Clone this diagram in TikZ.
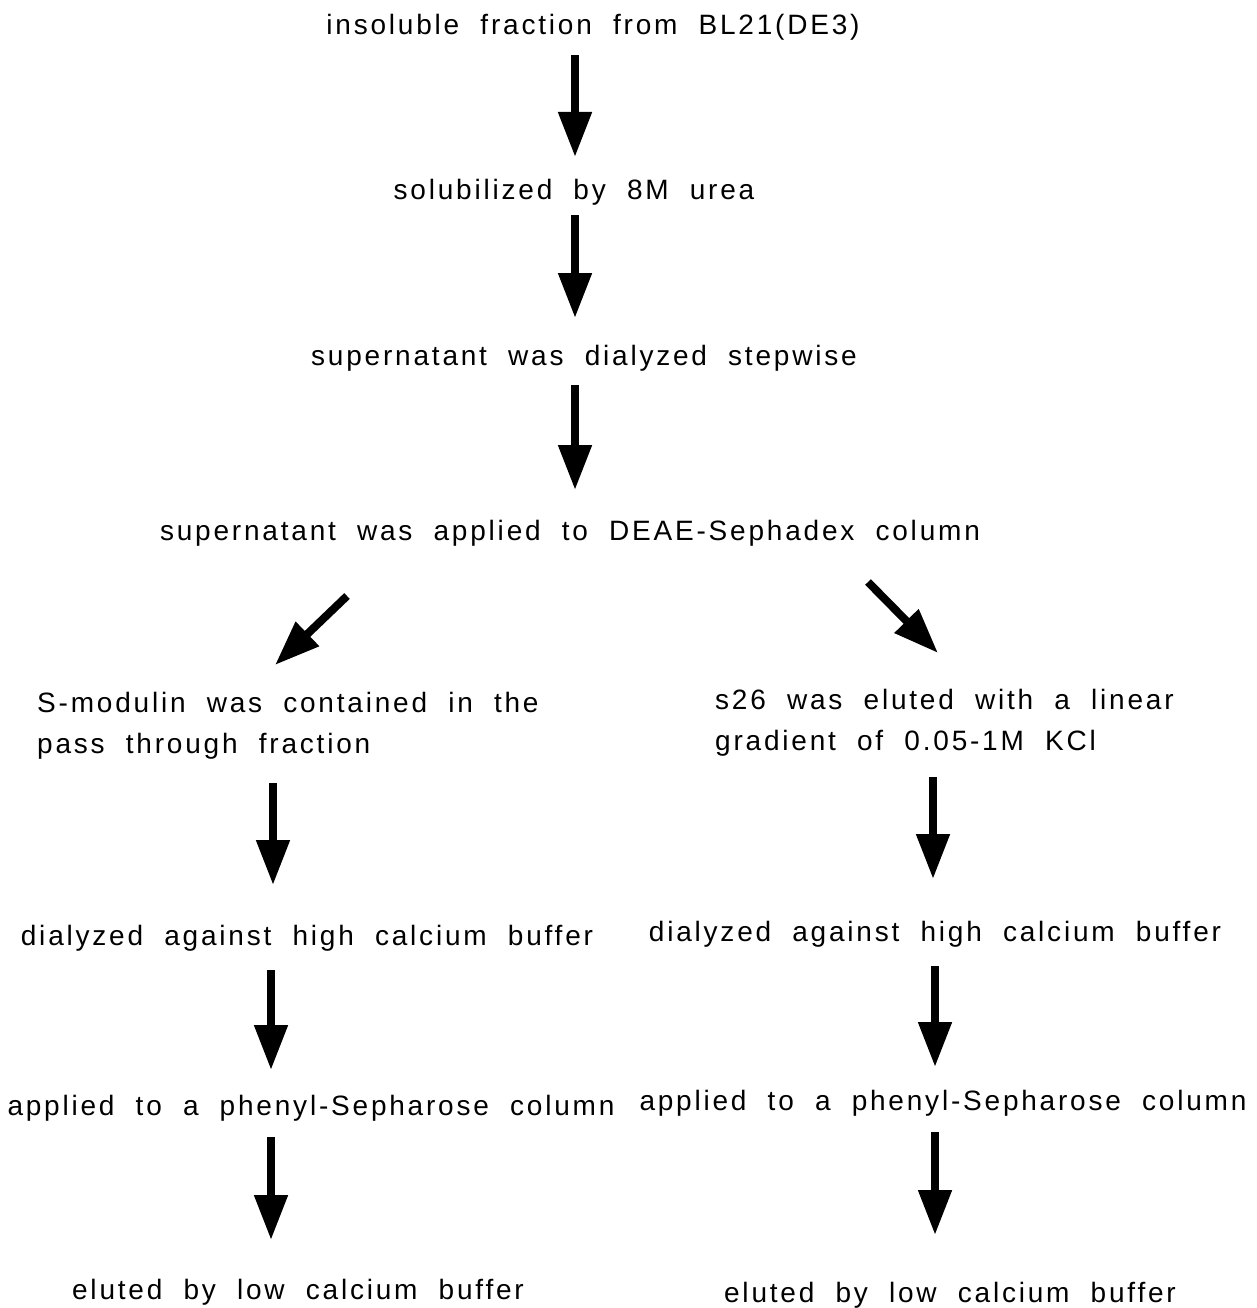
\documentclass[tikz,border=0pt]{standalone}
\usepackage{fontspec}
\setmainfont{Liberation Sans}[LetterSpace=10, WordSpace=2]
\usetikzlibrary{arrows.meta}
\tikzset{
  stage/.style={inner sep=0pt, font=\fontsize{28}{41}\selectfont, anchor=base},
  twoline/.style={stage, align=left, anchor=north west},
  flow/.style={line width=8pt, -{Triangle[width=32pt,length=45pt]}}
}
\begin{document}
\begin{tikzpicture}[x=1pt,y=-1pt]
\useasboundingbox (0,0) rectangle (1256,1308);

% main trunk
\node[stage] (s1) at (593,35) {insoluble fraction from BL21(DE3)};
\node[stage] (s2) at (574,200) {solubilized by 8M urea};
\node[stage] (s3) at (584,365) {supernatant was dialyzed stepwise};
\node[stage] (s4) at (570,540) {supernatant was applied to DEAE-Sephadex column};

% left branch
\node[twoline] (l1) at (37,692) {S-modulin was contained in the\\pass through fraction};
\node[stage] (l2) at (307,945) {dialyzed against high calcium buffer};
\node[stage] (l3) at (311,1115) {applied to a phenyl-Sepharose column};
\node[stage] (l4) at (298,1299) {eluted by low calcium buffer};

% right branch
\node[twoline] (r1) at (715,689) {s26 was eluted with a linear\\gradient of 0.05-1M KCl};
\node[stage] (r2) at (935,941) {dialyzed against high calcium buffer};
\node[stage] (r3) at (943,1110) {applied to a phenyl-Sepharose column};
\node[stage] (r4) at (950,1302) {eluted by low calcium buffer};

% arrow end points
\coordinate (a1s) at (575,55);   \coordinate (a1e) at (575,157);
\coordinate (a2s) at (575,215);  \coordinate (a2e) at (575,318);
\coordinate (a3s) at (575,385);  \coordinate (a3e) at (575,490);
\coordinate (bls) at (347,596);  \coordinate (ble) at (275,665);
\coordinate (brs) at (868,582);  \coordinate (bre) at (938,653);
\coordinate (l1s) at (273,783);  \coordinate (l1e) at (273,885);
\coordinate (l2s) at (271,970);  \coordinate (l2e) at (271,1070);
\coordinate (l3s) at (271,1137); \coordinate (l3e) at (271,1240);
\coordinate (r1s) at (933,777);  \coordinate (r1e) at (933,879);
\coordinate (r2s) at (935,966);  \coordinate (r2e) at (935,1067);
\coordinate (r3s) at (935,1132); \coordinate (r3e) at (935,1235);

\draw[flow] (a1s) -- (a1e);
\draw[flow] (a2s) -- (a2e);
\draw[flow] (a3s) -- (a3e);
\draw[flow] (bls) -- (ble);
\draw[flow] (brs) -- (bre);
\draw[flow] (l1s) -- (l1e);
\draw[flow] (l2s) -- (l2e);
\draw[flow] (l3s) -- (l3e);
\draw[flow] (r1s) -- (r1e);
\draw[flow] (r2s) -- (r2e);
\draw[flow] (r3s) -- (r3e);
\end{tikzpicture}
\end{document}
